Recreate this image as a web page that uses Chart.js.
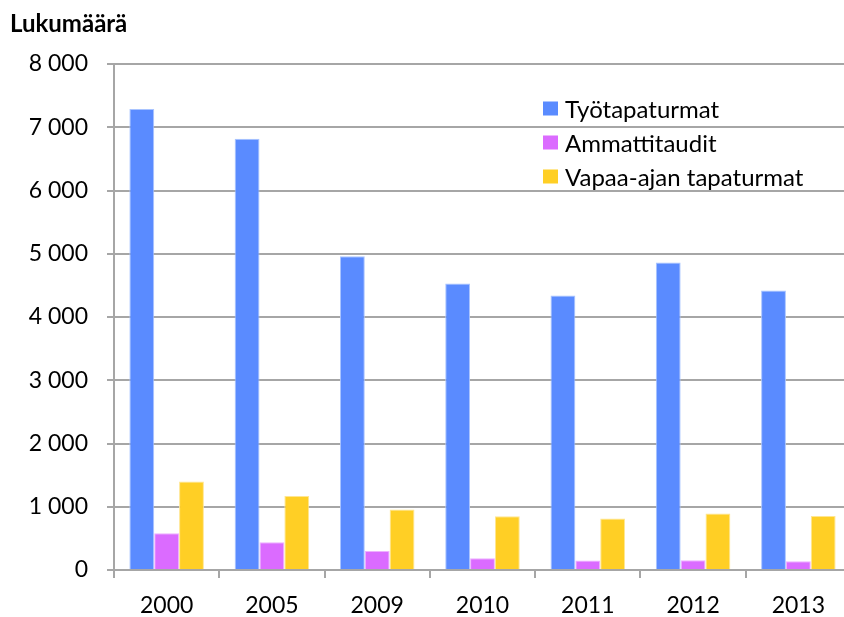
<!DOCTYPE html>
<html>
<head>
<meta charset="utf-8">
<script src="https://cdn.jsdelivr.net/npm/chart.js@4/dist/chart.umd.min.js"></script>
<style>
    body { margin: 0; overflow: hidden; background: #fff; }
    #wrap { width: 860px; height: 617px; }
</style>
</head>
<body>
<div id="wrap"><canvas id="chart"></canvas></div>
<script>
// Vuodet ja sarjat
const years = ['2000', '2005', '2009', '2010', '2011', '2012', '2013'];
const tyotapaturmat = [7290, 6820, 4960, 4530, 4340, 4860, 4420];
const ammattitaudit = [580, 440, 300, 185, 150, 155, 140];
const vapaaAjan = [1400, 1170, 955, 850, 815, 895, 855];
const yTicks = [0, 1000, 2000, 3000, 4000, 5000, 6000, 7000, 8000];

const FONT = 'Lato, "Open Sans", sans-serif';
const GRID = '#a6a6a6';

// Otsikko ja selite piirretään itse
const extras = {
    id: 'extras',
    afterDraw(chart) {
        const ctx = chart.ctx;
        ctx.save();
        ctx.fillStyle = '#000';
        ctx.font = 'bold 24px ' + FONT;
        ctx.textBaseline = 'alphabetic';
        ctx.fillText('Lukumäärä', 10, 32);

        ctx.font = '24px ' + FONT;
        chart.data.datasets.forEach((ds, i) => {
            const base = 118 + i * 34;
            ctx.fillStyle = ds.backgroundColor;
            ctx.fillRect(543, base - 16.5, 15, 14);
            ctx.fillStyle = '#000';
            ctx.fillText(ds.label, 565, base);
        });
        ctx.restore();
    }
};

function thousands(v) {
    return String(v).replace(/\B(?=(\d{3})+(?!\d))/g, ' ');
}

new Chart(document.getElementById('chart'), {
    type: 'bar',
    data: {
        labels: years,
        datasets: [
            { label: 'Työtapaturmat', data: tyotapaturmat, backgroundColor: '#5a8bff', borderColor: '#a9c4ff' },
            { label: 'Ammattitaudit', data: ammattitaudit, backgroundColor: '#db6bff', borderColor: '#eeb0ff' },
            { label: 'Vapaa-ajan tapaturmat', data: vapaaAjan, backgroundColor: '#ffcf25', borderColor: '#ffe691' }
        ]
    },
    options: {
        responsive: true,
        maintainAspectRatio: false,
        animation: false,
        layout: { padding: { left: 10, top: 64, right: 9, bottom: 0 } },
        datasets: {
            bar: { borderWidth: 1, categoryPercentage: 0.708, barPercentage: 1 }
        },
        plugins: {
            legend: { display: false },
            tooltip: { enabled: false }
        },
        scales: {
            x: {
                grid: { offset: true, drawOnChartArea: false, drawTicks: true, tickLength: 8, color: GRID, lineWidth: 2 },
                border: { color: GRID, width: 2 },
                ticks: { color: '#000', font: { family: FONT, size: 23 }, padding: 14 },
                afterFit: s => { s.height = 47; }
            },
            y: {
                min: 0,
                max: 8000,
                afterBuildTicks: s => { s.ticks = yTicks.map(v => ({ value: v })); },
                grid: { color: GRID, lineWidth: 2, tickLength: 7 },
                border: { color: GRID, width: 2 },
                ticks: { color: '#000', font: { family: FONT, size: 23 }, padding: 19, callback: v => thousands(v) },
                afterFit: s => { s.width = 104; }
            }
        }
    },
    plugins: [extras]
});
</script>
</body>
</html>
